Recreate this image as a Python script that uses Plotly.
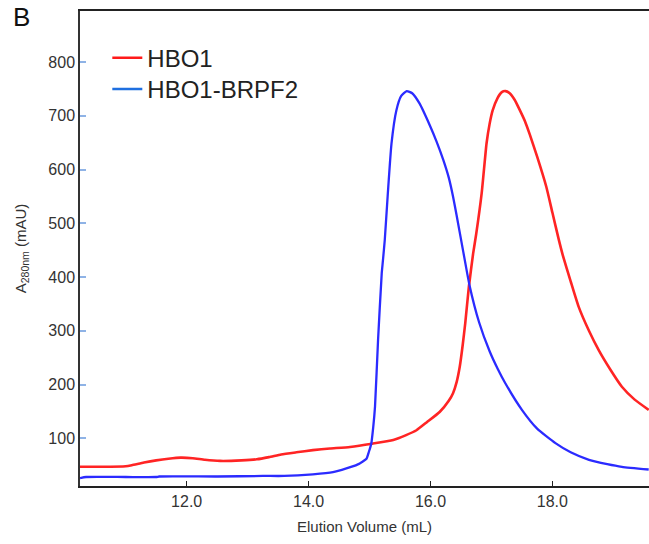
import plotly.graph_objects as go

# ---- data ----
hbo1_x = [10.25, 10.6, 11.0, 11.1, 11.3, 11.5, 11.7, 11.9, 12.1, 12.3, 12.55, 12.9, 13.15, 13.35,
          13.55, 13.8, 14.07, 14.35, 14.68, 15.04, 15.39, 15.6, 15.77, 15.94, 16.15, 16.3, 16.37,
          16.43, 16.48, 16.53, 16.57, 16.63, 16.7, 16.75, 16.84, 16.92, 16.97, 17.02, 17.1, 17.17,
          17.23, 17.3, 17.38, 17.46, 17.55, 17.63, 17.75, 17.9, 18.0, 18.1, 18.17, 18.3, 18.43,
          18.6, 18.76, 18.95, 19.14, 19.35, 19.58]
hbo1_y = [47, 47, 48, 50, 55, 59, 62, 64, 63, 60, 58, 59, 61, 65,
          70, 74, 78, 81, 84, 90, 97, 106, 115, 130, 149, 170, 184,
          205, 233, 275, 314, 382, 444, 480, 556, 649, 685, 710, 733, 744,
          746, 742, 730, 712, 690, 665, 624, 568, 520, 472, 441, 392, 345,
          300, 264, 228, 196, 172, 153]

brpf2_x = [10.25, 10.35, 11.0, 11.5, 11.55, 12.5, 13.25, 13.6, 14.07, 14.4, 14.62, 14.8, 14.89,
           14.95, 14.99, 15.03, 15.06, 15.09, 15.14, 15.2, 15.22, 15.25, 15.3, 15.36, 15.44, 15.52,
           15.61, 15.7, 15.82, 15.99, 16.1, 16.21, 16.3, 16.37, 16.43, 16.53, 16.64, 16.8, 16.97,
           17.1, 17.23, 17.5, 17.75, 18.05, 18.3, 18.6, 18.9, 19.14, 19.58]
brpf2_y = [26, 28, 28, 28, 29, 29, 30, 30, 33, 37, 44, 51, 57,
           62, 75, 91, 120, 159, 283, 407, 431, 469, 555, 648, 710, 737,
           746, 742, 723, 682, 652, 618, 585, 550, 514, 452, 385, 315, 262,
           230, 202, 153, 118, 91, 74, 60, 52, 47, 42]

x_ticks = [12, 14, 16, 18]
x_tick_labels = ["12.0", "14.0", "16.0", "18.0"]
y_ticks = [100, 200, 300, 400, 500, 600, 700, 800]

series_names = ["HBO1", "HBO1-BRPF2"]

FONT = "Liberation Sans, Arial, sans-serif"

fig = go.Figure()
fig.add_trace(go.Scatter(x=hbo1_x, y=hbo1_y, mode="lines", showlegend=False,
                         line=dict(color="#ff2424", width=2.6, shape="spline", smoothing=0.5)))
fig.add_trace(go.Scatter(x=brpf2_x, y=brpf2_y, mode="lines", showlegend=False,
                         line=dict(color="#2b2bff", width=2.3, shape="spline", smoothing=0.5)))
# legend entries (the reference legend uses slightly different hues)
fig.add_trace(go.Scatter(x=[None], y=[None], mode="lines", name=series_names[0],
                         legend="legend", line=dict(color="#ff1a1a", width=2.5)))
fig.add_trace(go.Scatter(x=[None], y=[None], mode="lines", name=series_names[1],
                         legend="legend2", line=dict(color="#1f6fe0", width=2.5)))

leg_common = dict(xanchor="left", yanchor="middle",
                  font=dict(size=24, color="#222222", family=FONT),
                  bgcolor="rgba(0,0,0,0)")

fig.update_layout(
    width=649, height=544,
    margin=dict(l=80, r=0, t=11, b=58),
    paper_bgcolor="white", plot_bgcolor="white",
    font=dict(family=FONT, color="#222222"),
    legend=dict(x=0.048, y=0.9005, **leg_common),
    legend2=dict(x=0.048, y=0.835, **leg_common),
    annotations=[dict(text="B", xref="paper", yref="paper", x=-0.102, y=1.0225,
                      xanchor="center", yanchor="top", showarrow=False,
                      font=dict(size=26, color="#111111", family=FONT))],
)
fig.update_xaxes(
    range=[10.25, 19.585], tickvals=x_ticks, ticktext=x_tick_labels,
    showgrid=False, zeroline=False,
    showline=True, linecolor="#222222", linewidth=2, mirror=True,
    ticks="inside", ticklen=5, tickcolor="#222222", tickwidth=1,
    tickfont=dict(size=16, color="#333333"),
    title=dict(text="Elution Volume (mL)", font=dict(size=15, color="#333333"), standoff=12),
)
fig.update_yaxes(
    range=[11.3, 895], tickvals=y_ticks,
    showgrid=False, zeroline=False,
    showline=True, linecolor="#333333", linewidth=1.5, mirror=False,
    ticks="inside", ticklen=6, tickcolor="#8fb3e6", tickwidth=1.5,
    tickfont=dict(size=16, color="#333333"),
    title=dict(text="A<sub>280nm</sub> (mAU)", font=dict(size=15, color="#333333"), standoff=18),
)

fig.write_html("out.html", config={"displayModeBar": False},
               post_script="document.body.style.margin='0';")
